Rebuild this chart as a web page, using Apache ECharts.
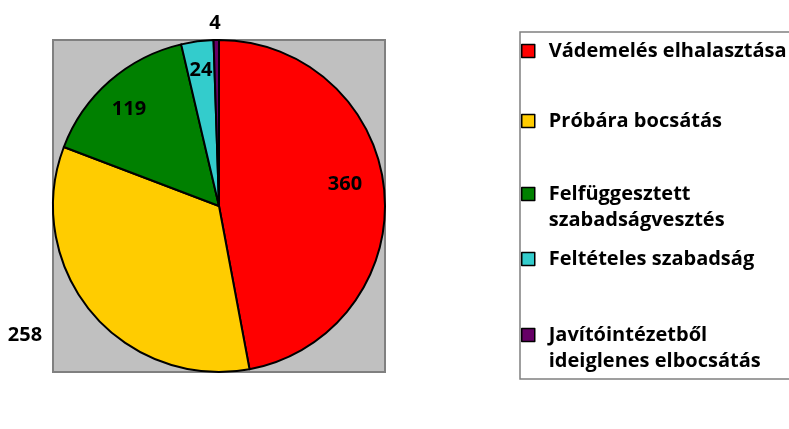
<!DOCTYPE html>
<html>
<head>
<meta charset="utf-8">
<script src="https://cdn.jsdelivr.net/npm/echarts@6/dist/echarts.min.js"></script>
<style>html,body{margin:0;padding:0;background:#fff;}#c{width:789px;height:429px;}</style>
</head>
<body>
<div id="c"></div>
<script>
const categories = [
  'Vádemelés elhalasztása',
  'Próbára bocsátás',
  'Felfüggesztett\nszabadságvesztés',
  'Feltételes szabadság',
  'Javítóintézetből\nideiglenes elbocsátás'
];
const values = [360, 258, 119, 24, 4];
const colors = ['#FF0000', '#FFCC00', '#008000', '#33CCCC', '#660066'];

// label anchor positions (layout only)
const labelPos = [[345, 184], [25, 335], [129, 109], [201, 70], [215, 23]];
const legendCenters = [51, 121, 194, 259, 335];
const LH = 26;

const FONT = '"Open Sans"';
const chart = echarts.init(document.getElementById('c'), null, {renderer: 'canvas'});

const legends = categories.map((name, i) => {
  const multi = name.indexOf('\n') >= 0;
  return {
    left: 521,
    top: multi ? legendCenters[i] - LH * 1.5 : legendCenters[i] - LH / 2,
    padding: 0,
    orient: 'vertical',
    itemWidth: 13,
    itemHeight: 13,
    icon: 'rect',
    selectedMode: false,
    itemStyle: {borderColor: '#000', borderWidth: 1.5},
    formatter: function (n) { return multi ? '\n' + n : n; },
    textStyle: {
      fontFamily: FONT, fontWeight: 'bold', fontSize: 20, color: '#000',
      lineHeight: LH,
      padding: [0, 0, 0, 9]
    },
    data: [name]
  };
});

chart.setOption({
  animation: false,
  backgroundColor: '#fff',
  graphic: [
    {type: 'rect', shape: {x: 53, y: 40, width: 332, height: 332},
     style: {fill: '#C0C0C0', stroke: '#808080', lineWidth: 2}, z: -10},
    {type: 'rect', shape: {x: 520, y: 32, width: 280, height: 347},
     style: {fill: 'none', stroke: '#808080', lineWidth: 1.5}, z: -10}
  ],
  legend: legends,
  series: [{
    type: 'pie',
    center: [219, 206],
    radius: 166,
    startAngle: 90,
    clockwise: true,
    avoidLabelOverlap: false,
    data: categories.map((n, i) => ({
      name: n, value: values[i],
      itemStyle: {color: colors[i]}
    })),
    itemStyle: {borderColor: '#000', borderWidth: 2},
    label: {
      show: true,
      position: 'inside',
      formatter: '{c}',
      fontFamily: FONT, fontWeight: 'bold', fontSize: 20, color: '#000'
    },
    labelLine: {show: false},
    labelLayout: function (p) {
      const pos = labelPos[p.dataIndex];
      return {x: pos[0], y: pos[1], align: 'center', verticalAlign: 'middle'};
    },
    emphasis: {disabled: true}
  }]
});
</script>
</body>
</html>
